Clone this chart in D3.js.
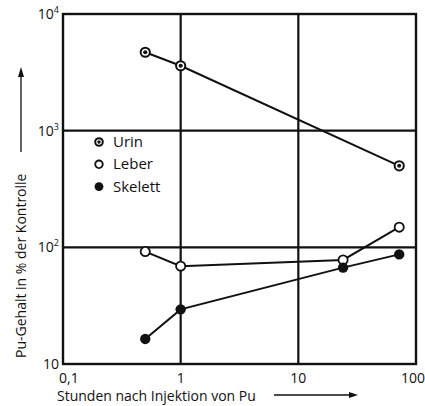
<!DOCTYPE html>
<html>
<head>
<meta charset="utf-8">
<script src="https://cdn.jsdelivr.net/npm/d3@7"></script>
<style>
  body { margin: 0; background: #fff; }
  svg { display: block; }
  text { font-family: 'Open Sans', 'DejaVu Sans', sans-serif; fill: #111; }
</style>
</head>
<body>
<div id="chart"></div>
<script>
// hours after injection
var hours = [0.5, 1, 24, 72]
var hoursUrin = [0.5, 1, 72]
// Pu content in % of control
var urin = [4700, 3600, 500]
var leber = [92, 69, 78, 149]
var skelett = [16.4, 29.4, 67, 87]

var xTicks = [0.1, 1, 10, 100]
var xTickLabels = ['0,1', '1', '10', '100']
var yTicks = [10, 100, 1000, 10000]
var yTickExp = ['', '2', '3', '4']

var legendNames = ['Urin', 'Leber', 'Skelett']

var width = 425
var height = 406
var margin = { top: 14, right: 9, bottom: 42, left: 63 }

var svg = d3.select('#chart').append('svg')
  .attr('width', width)
  .attr('height', height)

var x = d3.scaleLog().domain([0.1, 100]).range([margin.left, width - margin.right])
var y = d3.scaleLog().domain([10, 10000]).range([height - margin.bottom, margin.top])

var ink = '#111'

// grid lines (decades)
svg.append('g').selectAll('line.v')
  .data(xTicks.slice(1, 3))
  .enter().append('line')
  .attr('x1', d => x(d)).attr('x2', d => x(d))
  .attr('y1', y(10)).attr('y2', y(10000))
  .attr('stroke', ink).attr('stroke-width', 2.2)

svg.append('g').selectAll('line.h')
  .data(yTicks.slice(1, 3))
  .enter().append('line')
  .attr('x1', x(0.1)).attr('x2', x(100))
  .attr('y1', d => y(d)).attr('y2', d => y(d))
  .attr('stroke', ink).attr('stroke-width', 2.2)

// frame
svg.append('rect')
  .attr('x', x(0.1)).attr('y', y(10000))
  .attr('width', x(100) - x(0.1)).attr('height', y(10) - y(10000))
  .attr('fill', 'none').attr('stroke', ink).attr('stroke-width', 2.4)

// axes labels
var yl = svg.append('g').selectAll('text')
  .data(yTicks)
  .enter().append('text')
  .attr('x', x(0.1) - 4)
  .attr('y', d => y(d) + 5)
  .attr('text-anchor', 'end')
  .style('font-size', '14px')
yl.each(function (d, i) {
  var t = d3.select(this)
  if (yTickExp[i]) {
    t.append('tspan').text('10')
    t.append('tspan').attr('dy', -6).style('font-size', '9px').text(yTickExp[i])
  } else {
    t.text('10')
  }
})

svg.append('g').selectAll('text')
  .data(xTicks)
  .enter().append('text')
  .attr('x', (d, i) => i === 3 ? width : x(d))
  .attr('y', y(10) + 19)
  .attr('text-anchor', (d, i) => i === 0 ? 'start' : (i === 3 ? 'end' : 'middle'))
  .attr('dx', (d, i) => i === 0 ? -4 : 0)
  .style('font-size', '14px')
  .text((d, i) => xTickLabels[i])

// axis titles with arrows
svg.append('text')
  .attr('x', 57).attr('y', 401)
  .style('font-size', '14px')
  .text('Stunden nach Injektion von Pu')
svg.append('line')
  .attr('x1', 274).attr('x2', 352).attr('y1', 395).attr('y2', 395)
  .attr('stroke', ink).attr('stroke-width', 1.3)
svg.append('path')
  .attr('d', 'M358,395 L349,392 L349,398 Z').attr('fill', ink)

svg.append('text')
  .attr('transform', 'translate(26,358) rotate(-90)')
  .style('font-size', '14px')
  .text('Pu-Gehalt in % der Kontrolle')
svg.append('line')
  .attr('x1', 21).attr('x2', 21).attr('y1', 152).attr('y2', 74)
  .attr('stroke', ink).attr('stroke-width', 1.3)
svg.append('path')
  .attr('d', 'M21,67 L18,77 L24,77 Z').attr('fill', ink)

// series
var line = d3.line().x(d => x(d[0])).y(d => y(d[1]))
var series = [
  { name: 'Urin', pts: d3.zip(hoursUrin, urin) },
  { name: 'Leber', pts: d3.zip(hours, leber) },
  { name: 'Skelett', pts: d3.zip(hours, skelett) }
]

svg.append('g').selectAll('path')
  .data(series)
  .enter().append('path')
  .attr('d', d => line(d.pts))
  .attr('fill', 'none').attr('stroke', ink).attr('stroke-width', 2)

function marker (g, name, r) {
  if (name === 'Urin') {
    g.append('circle').attr('r', r).attr('fill', '#fff').attr('stroke', ink).attr('stroke-width', 2)
    g.append('circle').attr('r', r * 0.45).attr('fill', ink)
  } else if (name === 'Leber') {
    g.append('circle').attr('r', r).attr('fill', '#fff').attr('stroke', ink).attr('stroke-width', 1.8)
  } else {
    g.append('circle').attr('r', r + 0.6).attr('fill', ink)
  }
}

series.forEach(function (s) {
  svg.append('g').selectAll('g')
    .data(s.pts)
    .enter().append('g')
    .attr('transform', d => 'translate(' + x(d[0]) + ',' + y(d[1]) + ')')
    .each(function () { marker(d3.select(this), s.name, 4.6) })
})

// legend
var leg = svg.append('g').selectAll('g')
  .data(legendNames)
  .enter().append('g')
  .attr('transform', (d, i) => 'translate(99,' + (142 + i * 22.3) + ')')
leg.each(function (d) { marker(d3.select(this), d, 3.8) })
leg.append('text')
  .attr('x', 14).attr('y', 5)
  .style('font-size', '15px')
  .text(d => d)
</script>
</body>
</html>
